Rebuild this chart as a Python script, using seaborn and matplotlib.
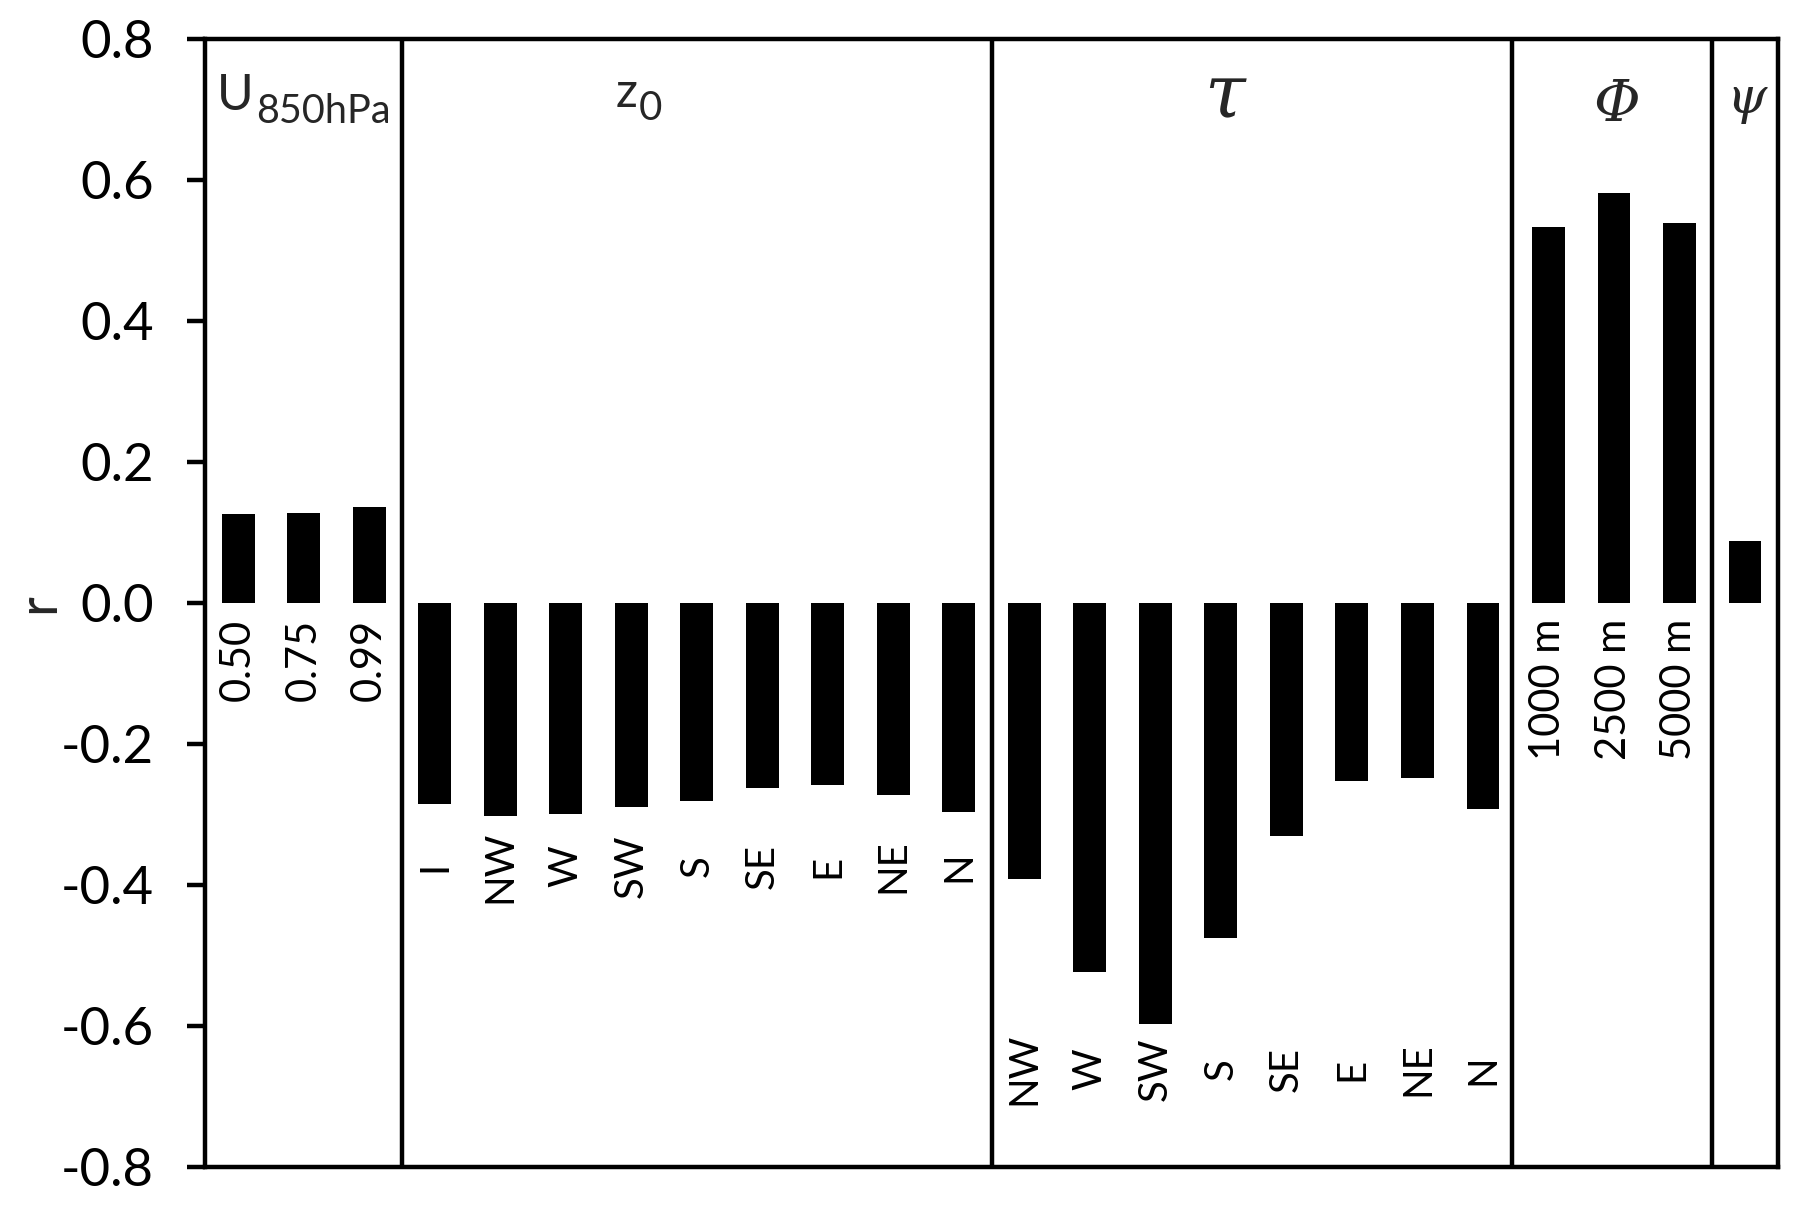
import numpy as np
import pandas as pd
import matplotlib
matplotlib.use("Agg")
import matplotlib.pyplot as plt
import seaborn as sns

# ---------------- data ----------------
u850_labels = ["0.50", "0.75", "0.99"]
u850_r = [0.126, 0.128, 0.136]
z0_labels = ["I", "NW", "W", "SW", "S", "SE", "E", "NE", "N"]
z0_r = [-0.285, -0.302, -0.300, -0.289, -0.281, -0.263, -0.258, -0.273, -0.297]
tau_labels = ["NW", "W", "SW", "S", "SE", "E", "NE", "N"]
tau_r = [-0.392, -0.524, -0.598, -0.475, -0.331, -0.252, -0.248, -0.292]
phi_labels = ["1000 m", "2500 m", "5000 m"]
phi_r = [0.534, 0.582, 0.540]
psi_labels = [""]
psi_r = [0.088]
y_ticks = [-0.8, -0.6, -0.4, -0.2, 0.0, 0.2, 0.4, 0.6, 0.8]

group_names = ["U850", "z0", "tau", "phi", "psi"]
group_labels = [u850_labels, z0_labels, tau_labels, phi_labels, psi_labels]
group_values = [u850_r, z0_r, tau_r, phi_r, psi_r]

rows = []
for g, labs, vals in zip(group_names, group_labels, group_values):
    for lab, v in zip(labs, vals):
        rows.append({"group": g, "label": lab, "key": f"{g}|{lab}", "r": v})
df = pd.DataFrame(rows)

# ---------------- style ----------------
sns.set_style("ticks")
plt.rcParams["font.family"] = ["Lato", "DejaVu Sans"]

LW = 3.2
fig = plt.figure(figsize=(18.01, 12.12), dpi=100)
ax = fig.add_axes([0.11405, 0.03754, 0.87301, 0.92987])

sns.barplot(data=df, x="key", y="r", order=list(df["key"]), color="black",
            saturation=1, width=0.5, errorbar=None, edgecolor="none",
            linewidth=0, ax=ax)

ax.set_xlim(-0.5, len(df) - 0.5)
ax.set_ylim(-0.8, 0.8)
ax.set_xticks([])
ax.set_xlabel("")
ax.set_yticks(y_ticks)
ax.set_yticklabels([f"{t:.1f}" for t in y_ticks])
ax.tick_params(axis="y", direction="out", length=13, width=LW,
               labelsize=38, pad=24, colors="black")
for s in ax.spines.values():
    s.set_visible(True)
    s.set_linewidth(LW)
    s.set_color("black")

# group separators
for b in [2.5, 11.5, 19.44, 22.5]:
    ax.axvline(b, color="black", lw=LW)

# rotated category labels
label_pos = {"U850": (-0.022, "top", 30), "z0": (-0.374, "center", 29),
             "tau": (-0.662, "center", 29), "phi": (-0.022, "top", 30),
             "psi": (-0.022, "top", 30)}
for i, row in df.iterrows():
    y, va, fs = label_pos[row["group"]]
    ax.text(i, y, row["label"], rotation=90, ha="center", va=va,
            fontsize=fs, color="black")

# group titles
ax.text(0.24, 0.700, "U", ha="right", va="baseline", fontsize=36)
ax.text(0.27, 0.681, "850hPa", ha="left", va="baseline", fontsize=28.5)
ax.text(6.09, 0.7046, "z", ha="right", va="baseline", fontsize=35)
ax.text(6.11, 0.6857, "0", ha="left", va="baseline", fontsize=29)
ax.text(15.05, 0.690, "τ", ha="center", va="baseline", fontsize=53,
        family="DejaVu Serif", style="italic")
ax.text(21.05, 0.684, "Φ", ha="center", va="baseline", fontsize=41,
        family="DejaVu Serif", style="italic")
ax.text(23.02, 0.695, "ψ", ha="center", va="baseline", fontsize=37,
        family="DejaVu Serif", style="italic")

ax.set_ylabel("r", fontsize=39)
ax.yaxis.set_label_coords(-0.0905, 0.5)

fig.savefig("out.png", dpi=100, facecolor="white")
